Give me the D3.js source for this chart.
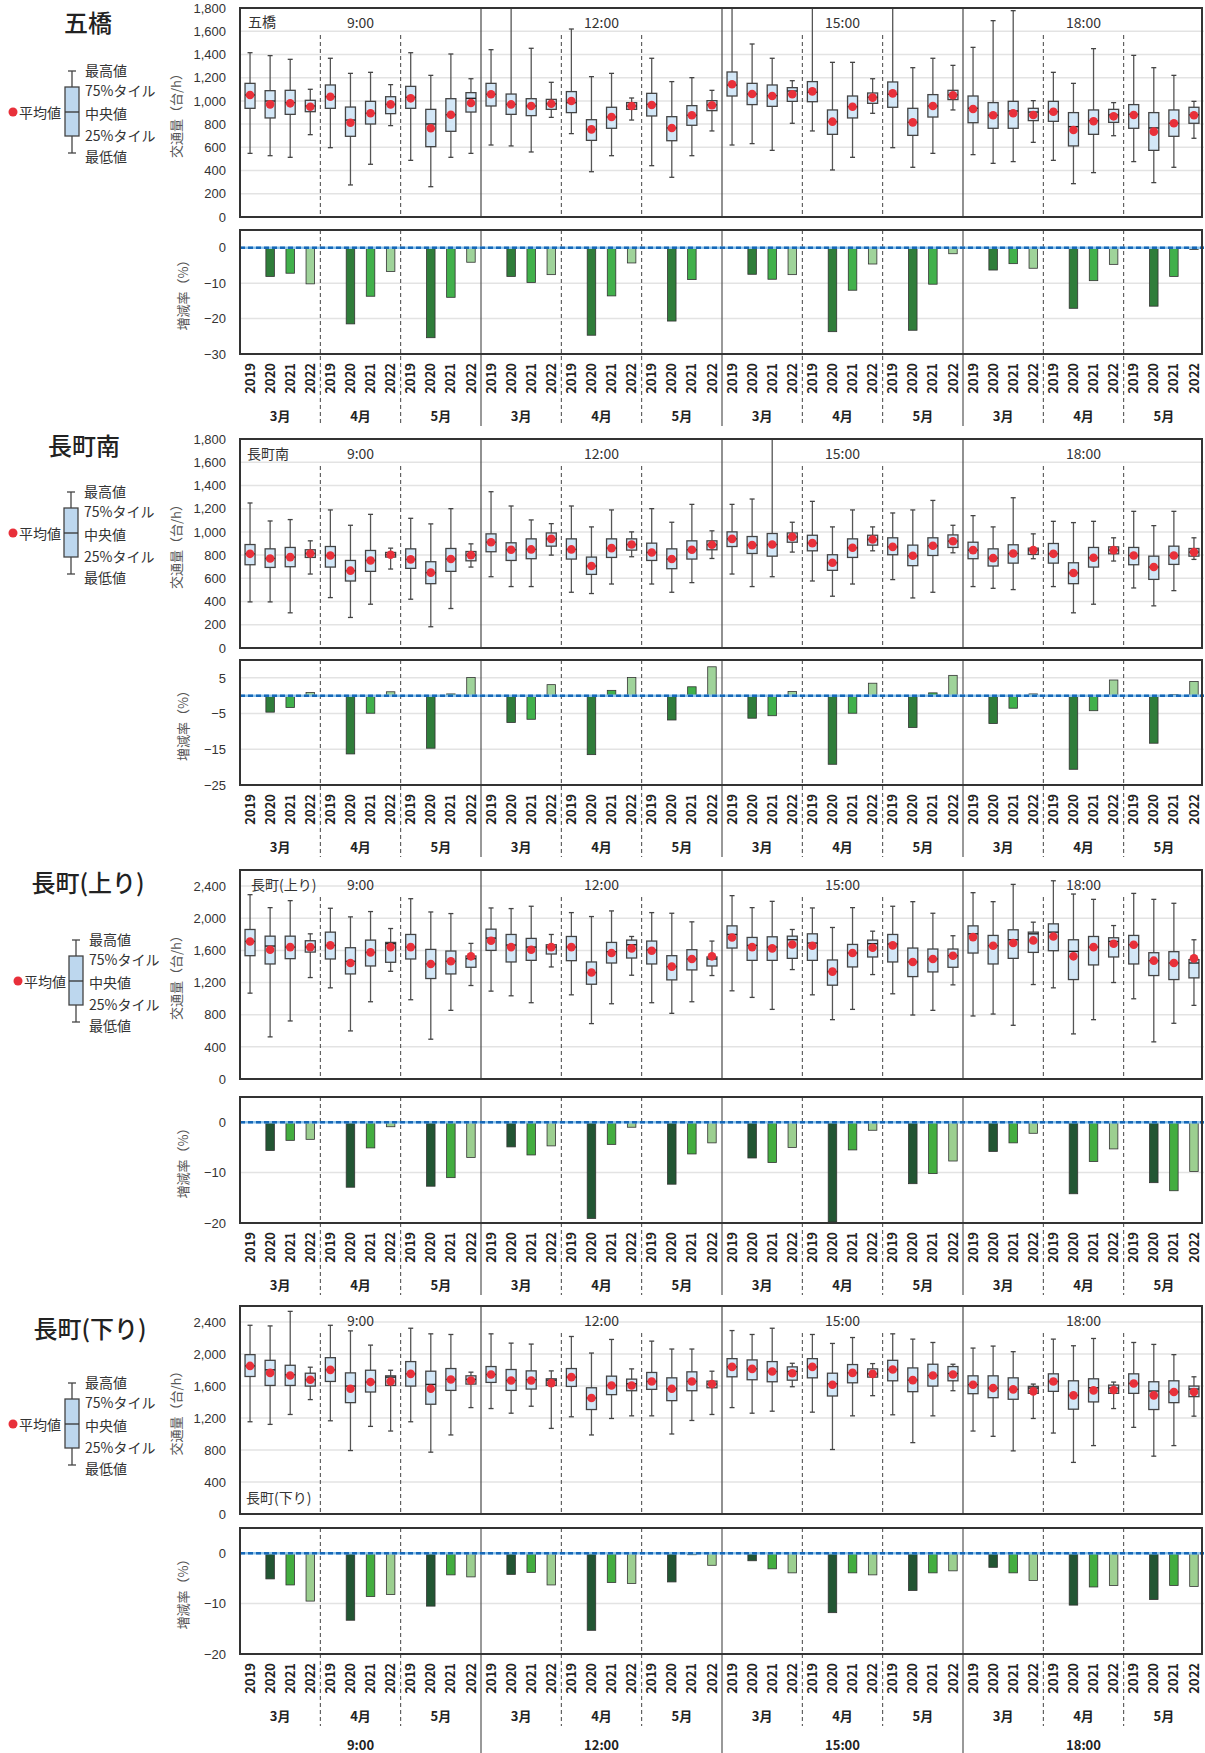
<!DOCTYPE html>
<html>
<head>
<meta charset="utf-8">
<script src="https://cdn.jsdelivr.net/npm/d3@7"></script>
<style>
  body { margin: 0; background: #fff; }
  svg { display: block; font-family: "Noto Sans CJK JP", "Noto Sans", sans-serif; }
</style>
</head>
<body>
<div id="chart"></div>
<script>
const years = ["2019", "2020", "2021", "2022"];
const months = ["3月", "4月", "5月"];
const times = ["9:00", "12:00", "15:00", "18:00"];
const sites = ["五橋", "長町南", "長町(上り)", "長町(下り)"];

// [最低値, 25%, 中央値, 75%, 最高値, 平均値] per time > month > year
const gohashiBox = [
  [548,936,1051,1151,1415,1051],[528,853,999,1088,1390,970],[514,884,985,1091,1358,979],[709,907,956,1005,1100,950],
  [597,936,1036,1137,1367,1036],[276,695,835,947,1237,812],[454,801,893,996,1246,893],[787,890,970,1036,1140,970],
  [488,936,1031,1125,1415,1022],[261,606,801,927,1220,764],[514,738,881,1019,1404,881],[548,904,1022,1071,1191,982],
  [620,956,1057,1151,1441,1057],[612,884,970,1059,1900,970],[560,873,956,1019,1453,956],[858,927,976,1013,1160,976],
  [718,899,985,1080,1619,999],[390,660,755,838,1209,755],[528,764,861,945,1237,861],[835,927,956,985,1025,956],
  [442,870,970,1065,1367,965],[342,657,767,864,1166,767],[528,790,876,959,1200,876],[741,916,965,1002,1091,962],
  [620,1042,1137,1249,1900,1143],[632,968,1059,1151,1490,1059],[574,953,1045,1137,1367,1042],[807,996,1085,1114,1174,1057],
  [741,993,1074,1166,1900,1082],[405,712,821,922,1332,821],[514,853,950,1042,1332,950],[893,979,1031,1068,1191,1028],
  [597,945,1057,1163,1900,1065],[428,703,815,936,1286,815],[548,861,956,1054,1367,956],[922,1011,1051,1091,1306,1048],
  [537,812,936,1042,1461,930],[462,764,876,985,1691,876],[477,764,913,996,1777,893],[643,830,904,936,1002,879],
  [488,824,907,996,1246,907],[287,612,778,899,1151,749],[382,712,830,922,1450,824],[700,815,879,927,985,867],
  [477,764,884,968,1392,879],[296,574,767,899,1286,735],[428,695,807,922,1220,807],[678,807,879,945,996,876]
];
const minamiBox = [
  [397,717,811,891,1249,811],[397,694,771,854,1094,771],[303,700,783,866,1106,783],[637,780,814,846,923,814],
  [434,697,797,874,1189,797],[263,577,666,754,1057,666],[377,660,754,840,1151,754],[680,783,803,823,860,803],
  [420,686,763,854,1117,763],[183,554,649,743,1069,649],[340,660,766,857,1200,766],[697,751,800,831,897,800],
  [614,829,911,983,1346,911],[529,754,846,906,1223,846],[529,769,849,940,1103,849],[800,877,940,991,1071,940],
  [480,766,849,940,1223,849],[469,634,706,783,1043,706],[551,780,860,940,1189,860],[786,843,891,940,1000,891],
  [551,754,823,903,1200,823],[480,683,766,854,1083,766],[563,766,846,923,1237,846],[771,846,889,923,1009,889],
  [637,874,940,1000,1237,940],[529,814,886,960,1283,886],[614,791,891,986,1900,891],[826,911,957,991,1083,957],
  [577,837,903,971,1263,903],[446,669,734,803,1043,734],[551,780,863,940,1189,863],[837,886,934,971,1043,934],
  [589,803,871,949,1163,871],[431,709,794,886,1189,794],[480,797,880,949,1271,880],[820,866,920,974,1057,920],
  [529,769,843,911,1140,843],[514,706,774,854,1043,774],[503,731,814,889,1294,814],[769,806,843,860,983,843],
  [529,731,811,900,1091,811],[303,554,646,734,1080,646],[377,697,777,866,1091,777],[749,811,843,871,949,843],
  [517,717,797,866,1177,797],[363,591,697,791,1054,697],[494,720,797,877,1177,797],[763,791,826,857,949,826]
];
const nobariBox = [
  [1068,1534,1711,1860,2293,1711],[524,1431,1654,1777,2132,1608],[722,1497,1641,1777,2219,1641],[1262,1579,1641,1720,1806,1641],
  [1134,1493,1662,1827,2124,1662],[598,1307,1464,1633,2017,1443],[961,1406,1575,1728,2083,1575],[1340,1452,1683,1699,1872,1641],
  [986,1493,1641,1798,2243,1641],[495,1250,1431,1612,2078,1431],[854,1307,1464,1592,2058,1464],[1163,1390,1497,1530,1687,1526],
  [1093,1600,1753,1864,2128,1720],[1035,1456,1666,1798,2120,1641],[949,1476,1641,1749,2149,1608],[1394,1555,1641,1670,1798,1641],
  [1047,1472,1641,1773,2070,1641],[689,1179,1324,1456,2021,1324],[936,1443,1584,1699,2091,1567],[1291,1505,1670,1728,1773,1625],
  [949,1431,1604,1716,2070,1596],[817,1233,1398,1534,2062,1398],[961,1357,1493,1608,1955,1493],[1287,1406,1493,1518,1716,1526],
  [1097,1629,1798,1905,2281,1761],[1015,1476,1662,1761,2132,1641],[866,1476,1641,1769,2210,1625],[1361,1501,1732,1777,1860,1674],
  [1047,1476,1691,1806,2128,1658],[738,1167,1336,1481,1885,1336],[866,1394,1567,1674,2132,1567],[1299,1518,1683,1728,1839,1633],
  [1060,1456,1679,1798,2149,1662],[796,1274,1456,1629,2206,1456],[854,1332,1493,1617,2062,1493],[1171,1390,1534,1617,1782,1534],
  [784,1567,1806,1905,2318,1765],[808,1431,1658,1786,2206,1658],[668,1501,1732,1856,2421,1691],[1175,1575,1806,1827,1951,1724],
  [1134,1596,1827,1930,2466,1773],[561,1237,1588,1732,2301,1526],[738,1419,1641,1773,2235,1641],[1200,1518,1711,1757,1909,1683],
  [998,1431,1670,1786,2309,1670],[462,1287,1472,1571,2235,1472],[693,1237,1443,1584,2186,1443],[916,1258,1443,1485,1732,1501]
];
const kudariBox = [
  [1153,1719,1851,1992,2359,1851],[1120,1607,1802,1921,2351,1764],[1244,1607,1740,1859,2533,1731],[1430,1599,1678,1760,1835,1678],
  [1165,1657,1802,1954,2359,1802],[793,1392,1599,1764,2289,1566],[1095,1525,1649,1797,2111,1649],[1037,1607,1711,1727,1797,1657],
  [1153,1599,1752,1905,2322,1752],[773,1372,1620,1785,2252,1566],[988,1545,1682,1818,2244,1682],[1330,1624,1682,1727,1773,1669],
  [1318,1645,1744,1843,2252,1744],[1260,1545,1669,1806,2136,1669],[1347,1562,1678,1789,2124,1669],[1070,1607,1673,1690,1789,1636],
  [1215,1595,1711,1818,2219,1711],[988,1306,1450,1578,2012,1450],[1194,1492,1607,1723,2182,1607],[1227,1541,1628,1686,1814,1607],
  [1227,1558,1657,1769,2161,1657],[1000,1417,1566,1702,2062,1566],[1169,1541,1657,1777,2062,1657],[1244,1578,1624,1661,1785,1624],
  [1330,1715,1839,1942,2293,1839],[1260,1678,1814,1926,2244,1814],[1285,1653,1781,1905,2322,1781],[1591,1673,1781,1839,1884,1760],
  [1273,1702,1839,1942,2244,1839],[806,1475,1628,1760,2132,1616],[1227,1640,1764,1868,2206,1764],[1479,1711,1752,1814,1880,1752],
  [1240,1665,1806,1921,2252,1806],[892,1529,1673,1826,2186,1673],[1227,1599,1731,1872,2144,1731],[1541,1665,1756,1843,1872,1744],
  [1037,1504,1616,1727,2074,1616],[971,1454,1574,1727,2099,1574],[789,1434,1558,1702,2029,1558],[1194,1508,1574,1595,1624,1533],
  [1012,1533,1657,1752,2186,1657],[645,1310,1483,1665,2103,1483],[855,1401,1578,1690,2194,1545],[1318,1508,1574,1611,1649,1549],
  [1083,1508,1632,1752,2144,1632],[723,1306,1537,1653,2120,1483],[855,1392,1525,1665,1992,1525],[1223,1467,1562,1599,1715,1525]
];

// 増減率(%) vs 2019: 2020, 2021, 2022 per time > month
const gohashiRate = [-8.1,-7.2,-10.2, -21.5,-13.7,-6.7, -25.4,-14.0,-4.1, -8.1,-9.8,-7.6, -24.7,-13.6,-4.3, -20.7,-9.0,-0.2,
  -7.5,-8.9,-7.6, -23.7,-12.0,-4.6, -23.3,-10.3,-1.7, -6.3,-4.5,-5.8, -17.1,-9.3,-4.7, -16.5,-8.1,-0.5];
const minamiRate = [-4.6,-3.3,0.9, -16.3,-4.9,1.1, -14.7,0.5,5.1, -7.5,-6.6,3.1, -16.5,1.5,5.1, -6.8,2.5,8.1,
  -6.3,-5.6,1.2, -19.2,-4.9,3.5, -8.9,0.8,5.7, -7.8,-3.5,0.5, -20.6,-4.2,4.4, -13.3,0.3,4.0];
const nobariRate = [-5.6,-3.6,-3.4, -12.9,-5.1,-0.9, -12.7,-11.0,-7.0, -4.9,-6.5,-4.7, -19.1,-4.4,-1.0, -12.3,-6.3,-4.1,
  -7.1,-8.0,-5.0, -19.8,-5.5,-1.6, -12.2,-10.2,-7.7, -5.8,-4.1,-2.2, -14.2,-7.8,-5.3, -12.0,-13.6,-9.8];
const kudariRate = [-5.1,-6.3,-9.5, -13.3,-8.6,-8.2, -10.5,-4.3,-4.7, -4.2,-3.8,-6.3, -15.3,-5.8,-6.0, -5.7,-0.3,-2.4,
  -1.5,-3.1,-3.9, -11.8,-3.9,-4.3, -7.4,-3.9,-3.5, -2.8,-3.9,-5.4, -10.3,-6.7,-6.4, -9.2,-6.4,-6.6];

const legendLabels = ["最高値", "75%タイル", "中央値", "25%タイル", "最低値"];

// layout of each panel
const panels = [
  { name: sites[0], box: gohashiBox, rate: gohashiRate, title: [88, 21], legend: [72, 112, 13],
    boxTop: 8, boxBottom: 217, boxMax: 1800, step: 200,
    barTop: 230, barBottom: 354, rateDomain: [-30, 5], rateTicks: [0, -10, -20, -30],
    tag: [248, 21], greens: ["#2f7d3a", "#41b04b", "#9fd39a"] },
  { name: sites[1], box: minamiBox, rate: minamiRate, title: [84, 444], legend: [71, 533, 13],
    boxTop: 439, boxBottom: 648, boxMax: 1800, step: 200,
    barTop: 660, barBottom: 785, rateDomain: [-25, 10], rateTicks: [5, -5, -15, -25],
    tag: [247, 453], greens: ["#2f7d3a", "#41b04b", "#9fd39a"] },
  { name: sites[2], box: nobariBox, rate: nobariRate, title: [88, 881], legend: [76, 981, 18],
    boxTop: 870, boxBottom: 1079, boxMax: 2600, step: 400,
    barTop: 1097, barBottom: 1223, rateDomain: [-20, 5], rateTicks: [0, -10, -20],
    tag: [251, 884], greens: ["#225633", "#43ad40", "#9ccf90"] },
  { name: sites[3], box: kudariBox, rate: kudariRate, title: [90, 1327], legend: [72, 1424, 13],
    boxTop: 1306, boxBottom: 1514, boxMax: 2600, step: 400,
    barTop: 1528, barBottom: 1654, rateDomain: [-20, 5], rateTicks: [0, -10, -20],
    tag: [246, 1497], greens: ["#225633", "#43ad40", "#9ccf90"], last: true }
];

const X0 = 240, X1 = 1204;
const svg = d3.select("#chart").append("svg").attr("width", 1205).attr("height", 1753);

const x = d3.scaleBand().domain(d3.range(48)).range([X0, X1]);
const sec = d3.scaleBand().domain(times).range([X0, X1]);
const monthW = sec.bandwidth() / 3;
const cx = i => x(i) + x.bandwidth() / 2;

const secLines = d3.range(1, 4).map(k => X0 + k * sec.bandwidth());
const monthLines = [];
times.forEach(t => [1, 2].forEach(m => monthLines.push(sec(t) + m * monthW)));

function drawPanel(p, pi) {
  const g = svg.append("g");

  g.append("text").attr("x", p.title[0]).attr("y", p.title[1])
    .attr("text-anchor", "middle").attr("dominant-baseline", "central")
    .attr("font-size", 24).attr("font-weight", 500).attr("fill", "#222").text(p.name);

  // legend
  const [lx, ly, dotX] = p.legend;
  const lg = g.append("g");
  lg.append("line").attr("x1", lx).attr("x2", lx).attr("y1", ly - 41).attr("y2", ly + 41)
    .attr("stroke", "#444").attr("stroke-width", 1.3);
  [ly - 41, ly + 41].forEach(yy => lg.append("line").attr("x1", lx - 4).attr("x2", lx + 4)
    .attr("y1", yy).attr("y2", yy).attr("stroke", "#444").attr("stroke-width", 1.3));
  lg.append("rect").attr("x", lx - 7).attr("y", ly - 25).attr("width", 14).attr("height", 49)
    .attr("fill", "#bdd7ee").attr("stroke", "#444").attr("stroke-width", 1.3);
  lg.append("line").attr("x1", lx - 7).attr("x2", lx + 7).attr("y1", ly).attr("y2", ly)
    .attr("stroke", "#333").attr("stroke-width", 1.3);
  const offs = [-42, -22, 1, 23, 44];
  legendLabels.forEach((t, k) => lg.append("text").attr("x", lx + 13).attr("y", ly + offs[k])
    .attr("dominant-baseline", "central").attr("font-size", 14).attr("fill", "#333").text(t));
  lg.append("circle").attr("cx", dotX).attr("cy", ly).attr("r", 4.5).attr("fill", "#e8303a");
  lg.append("text").attr("x", dotX + 6).attr("y", ly).attr("dominant-baseline", "central")
    .attr("font-size", 14).attr("fill", "#333").text("平均値");

  // ---- box chart ----
  const y = d3.scaleLinear().domain([0, p.boxMax]).range([p.boxBottom, p.boxTop]);
  const tickMax = Math.floor(p.boxMax / p.step) * p.step;
  const ticks = d3.range(0, tickMax + 1, p.step);

  g.append("g").selectAll("line").data(ticks.filter(v => v > 0 && v < p.boxMax)).join("line")
    .attr("x1", X0).attr("x2", X1).attr("y1", d => y(d)).attr("y2", d => y(d))
    .attr("stroke", "#e3e3e3").attr("stroke-width", 1.5);

  const ax = g.append("g").attr("transform", `translate(${X0},0)`)
    .call(d3.axisLeft(y).tickValues(ticks).tickSize(0).tickPadding(14).tickFormat(d3.format(",")));
  ax.select(".domain").remove();
  ax.selectAll("text").attr("font-size", 13).attr("fill", "#333").style("font-family", "inherit");

  g.append("text").attr("transform", `translate(175,${(p.boxTop + p.boxBottom) / 2}) rotate(-90)`)
    .attr("text-anchor", "middle").attr("dominant-baseline", "central")
    .attr("font-size", 13).attr("fill", "#555").text("交通量（台/h）");

  g.selectAll(null).data(monthLines).join("line")
    .attr("x1", d => d).attr("x2", d => d).attr("y1", p.boxTop + 27).attr("y2", p.boxBottom)
    .attr("stroke", "#444").attr("stroke-dasharray", "4,3");
  g.selectAll(null).data(secLines).join("line")
    .attr("x1", d => d).attr("x2", d => d).attr("y1", p.boxTop).attr("y2", p.boxBottom)
    .attr("stroke", "#555").attr("stroke-width", 1.3);

  g.selectAll(null).data(times).join("text")
    .attr("x", d => sec(d) + sec.bandwidth() / 2).attr("y", p.boxTop + 14)
    .attr("text-anchor", "middle").attr("dominant-baseline", "central")
    .attr("font-size", 14).attr("fill", "#333").text(d => d);
  g.append("text").attr("x", p.tag[0]).attr("y", p.tag[1]).attr("dominant-baseline", "central")
    .attr("font-size", 14).attr("fill", "#333").text(p.name);

  const clipId = "clip" + pi;
  svg.append("clipPath").attr("id", clipId).append("rect")
    .attr("x", X0).attr("y", p.boxTop).attr("width", X1 - X0).attr("height", p.boxBottom - p.boxTop);

  const boxes = g.append("g").attr("clip-path", `url(#${clipId})`)
    .selectAll("g").data(p.box).join("g");
  boxes.append("line").attr("x1", (d, i) => cx(i)).attr("x2", (d, i) => cx(i))
    .attr("y1", d => y(d[0])).attr("y2", d => y(d[4])).attr("stroke", "#555").attr("stroke-width", 1.3);
  [0, 4].forEach(k => boxes.append("line")
    .attr("x1", (d, i) => cx(i) - 2.5).attr("x2", (d, i) => cx(i) + 2.5)
    .attr("y1", d => y(d[k])).attr("y2", d => y(d[k])).attr("stroke", "#444").attr("stroke-width", 1.3));
  boxes.append("rect").attr("x", (d, i) => cx(i) - 5).attr("width", 10)
    .attr("y", d => y(d[3])).attr("height", d => y(d[1]) - y(d[3]))
    .attr("fill", "#d3e7f7").attr("stroke", "#444").attr("stroke-width", 1.3);
  boxes.append("line").attr("x1", (d, i) => cx(i) - 5).attr("x2", (d, i) => cx(i) + 5)
    .attr("y1", d => y(d[2])).attr("y2", d => y(d[2])).attr("stroke", "#222").attr("stroke-width", 1.4);
  boxes.append("circle").attr("cx", (d, i) => cx(i)).attr("cy", d => y(d[5])).attr("r", 4.3)
    .attr("fill", "#e8303a");

  g.append("rect").attr("x", X0).attr("y", p.boxTop).attr("width", X1 - X0 - 2)
    .attr("height", p.boxBottom - p.boxTop).attr("fill", "none").attr("stroke", "#333").attr("stroke-width", 2);

  // ---- change-rate bars ----
  const yb = d3.scaleLinear().domain(p.rateDomain).range([p.barBottom, p.barTop]);
  g.selectAll(null).data(p.rateTicks.filter(v => v !== 0 && v !== p.rateDomain[0])).join("line")
    .attr("x1", X0).attr("x2", X1).attr("y1", d => yb(d)).attr("y2", d => yb(d))
    .attr("stroke", "#e3e3e3").attr("stroke-width", 1.5);

  const bx = g.append("g").attr("transform", `translate(${X0},0)`)
    .call(d3.axisLeft(yb).tickValues(p.rateTicks).tickSize(0).tickPadding(14));
  bx.select(".domain").remove();
  bx.selectAll("text").attr("font-size", 13).attr("fill", "#333").style("font-family", "inherit");

  g.append("text").attr("transform", `translate(182,${(p.barTop + p.barBottom) / 2}) rotate(-90)`)
    .attr("text-anchor", "middle").attr("dominant-baseline", "central")
    .attr("font-size", 13).attr("fill", "#555").text("増減率（%）");

  const labelBottom = p.last ? 1753 : p.barBottom + 72;
  g.selectAll(null).data(monthLines).join("line")
    .attr("x1", d => d).attr("x2", d => d).attr("y1", p.barTop).attr("y2", p.barBottom + 72)
    .attr("stroke", "#444").attr("stroke-dasharray", "4,3");
  g.selectAll(null).data(secLines).join("line")
    .attr("x1", d => d).attr("x2", d => d).attr("y1", p.barTop).attr("y2", labelBottom)
    .attr("stroke", "#555").attr("stroke-width", 1.2);

  const bars = p.rate.map((v, j) => ({ v, slot: Math.floor(j / 3) * 4 + (j % 3) + 1, yr: j % 3 }));
  g.append("g").selectAll("rect").data(bars).join("rect")
    .attr("x", d => cx(d.slot) - 4.25).attr("width", 8.5)
    .attr("y", d => yb(Math.max(0, d.v))).attr("height", d => Math.abs(yb(d.v) - yb(0)))
    .attr("fill", d => p.greens[d.yr]).attr("stroke", "#333").attr("stroke-width", 0.8);

  g.append("line").attr("x1", X0).attr("x2", X1).attr("y1", yb(0)).attr("y2", yb(0))
    .attr("stroke", "#8cc4ee").attr("stroke-width", 2.5);
  g.append("line").attr("x1", X0).attr("x2", X1).attr("y1", yb(0)).attr("y2", yb(0))
    .attr("stroke", "#1668b8").attr("stroke-width", 2.5).attr("stroke-dasharray", "5,3");

  g.append("rect").attr("x", X0).attr("y", p.barTop).attr("width", X1 - X0 - 2)
    .attr("height", p.barBottom - p.barTop).attr("fill", "none").attr("stroke", "#333").attr("stroke-width", 2);

  // x labels
  g.selectAll(null).data(d3.range(48)).join("text")
    .attr("transform", i => `translate(${cx(i)},${p.barBottom + 9}) rotate(-90)`)
    .attr("text-anchor", "end").attr("dy", "0.35em")
    .attr("font-size", 13).attr("font-weight", "bold").attr("fill", "#222")
    .text(i => years[i % 4]);
  const monthCells = [];
  times.forEach(t => months.forEach((m, k) => monthCells.push({ m, x: sec(t) + (k + 0.5) * monthW })));
  g.selectAll(null).data(monthCells).join("text")
    .attr("x", d => d.x).attr("y", p.barBottom + 61).attr("text-anchor", "middle")
    .attr("dominant-baseline", "central").attr("font-size", 13).attr("font-weight", "bold")
    .attr("fill", "#222").text(d => d.m);

  if (p.last) {
    g.selectAll(null).data(times).join("text")
      .attr("x", d => sec(d) + sec.bandwidth() / 2).attr("y", 1744)
      .attr("text-anchor", "middle").attr("dominant-baseline", "central")
      .attr("font-size", 13).attr("font-weight", "bold").attr("fill", "#222").text(d => d);
  }
}

panels.forEach(drawPanel);
</script>
</body>
</html>
